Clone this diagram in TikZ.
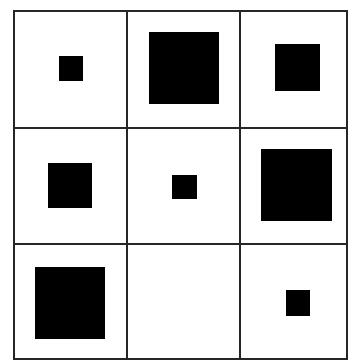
\documentclass[tikz,border=0pt]{standalone}
\begin{document}
\begin{tikzpicture}[x=1pt,y=-1pt,
  gridline/.style={draw=black!85,line width=1.6pt},
  blk/.style={fill=black}]
\useasboundingbox (0,0) rectangle (351,361);
\fill[white] (0,0) rectangle (351,361);
% grid
\draw[gridline] (14,11) rectangle (347,359);
\draw[gridline] (127,11) -- (127,359);
\draw[gridline] (240,11) -- (240,359);
\draw[gridline] (14,128) -- (347,128);
\draw[gridline] (14,244) -- (347,244);
% squares
\fill[blk] (59,56) rectangle (83,81);
\fill[blk] (149,32) rectangle (219,104);
\fill[blk] (275,44) rectangle (320,91);
\fill[blk] (48,163) rectangle (92,208);
\fill[blk] (172,175) rectangle (197,199);
\fill[blk] (261,149) rectangle (332,221);
\fill[blk] (35,267) rectangle (105,339);
\fill[blk] (286,290) rectangle (310,316);
\end{tikzpicture}
\end{document}
